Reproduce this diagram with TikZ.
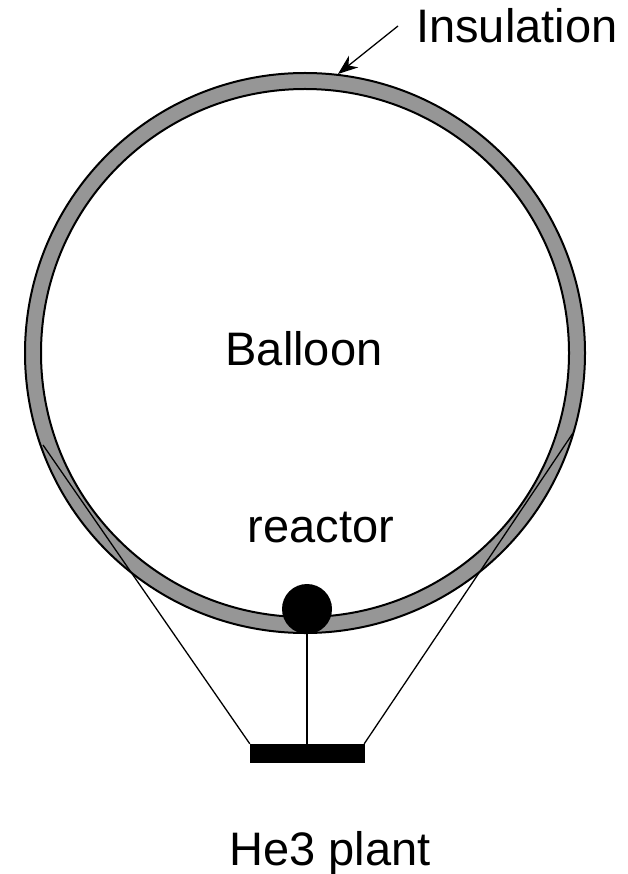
\documentclass[tikz,border=0pt]{standalone}
\usepackage{fontspec}
\setmainfont{Liberation Sans}
\usetikzlibrary{arrows.meta}
\tikzset{
  lbl/.style={anchor=base,inner sep=0pt,font=\fontsize{47}{56}\selectfont},
  ring/.style={fill={rgb,255:red,150;green,150;blue,150},draw=black,line width=2pt,even odd rule},
  rope/.style={line width=1.3pt}
}
\begin{document}
\begin{tikzpicture}[x=1pt,y=-1pt]
  \useasboundingbox (0,0) rectangle (628,874);
  \path[ring] (305,353) circle[radius=280] (305,353) circle[radius=264];
  \node[lbl] (balloon) at (304,365) {Balloon};
  \node[lbl] (rlabel) at (321,542) {reactor};
  \node[lbl] (plantlabel) at (330,865) {He3 plant};
  \node[lbl,anchor=base west] (insul) at (416,43) {Insulation};
  \node[draw,fill=black,rectangle,minimum width=114,minimum height=18,inner sep=0pt] (plant) at (307,753) {};
  \coordinate (lhook) at (43,445);
  \coordinate (rhook) at (573,433);
  \draw[rope] (lhook) -- (plant.north west);
  \draw[rope] (rhook) -- (plant.north east);
  \node[circle,fill=black,minimum size=50,inner sep=0pt] (reactor) at (307,609) {};
  \draw[rope] (reactor.south) -- (plant.north);
  \coordinate (tip) at (338,74);
  \coordinate (tail) at (398,26);
  \draw[line width=1.3pt,-{Stealth[length=20pt,width=15pt]}] (tail) -- (tip);
\end{tikzpicture}
\end{document}
